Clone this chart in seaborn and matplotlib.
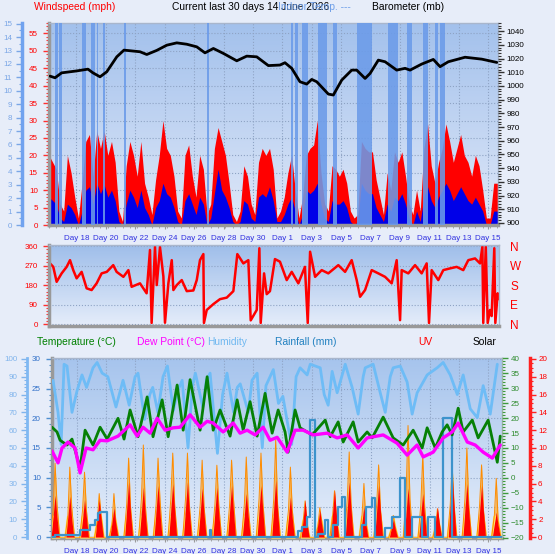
import numpy as np
import matplotlib
matplotlib.use('Agg')
import matplotlib.pyplot as plt
from matplotlib.colors import LinearSegmentedColormap
from matplotlib.ticker import MultipleLocator
import seaborn as sns

# time axis: days from the left edge of the chart (16 May)
day_ticks = [1.87 + 2 * k for k in range(15)]
day_labels = ['Day 18', 'Day 20', 'Day 22', 'Day 24', 'Day 26', 'Day 28', 'Day 30',
              'Day 1', 'Day 3', 'Day 5', 'Day 7', 'Day 9', 'Day 11', 'Day 13', 'Day 15']

# wind, 6-hourly samples (mph)
gust = [20, 18, 16, 6, 4, 20, 15, 8, 2, 12, 24, 26, 14, 27, 22, 27, 20, 24, 18, 4,
        1, 17, 24, 20, 14, 24, 12, 8, 3, 13, 20, 30, 22, 20, 14, 4, 2, 20, 23, 14,
        8, 20, 16, 3, 6, 22, 28, 24, 20, 12, 3, 1, 4, 17, 14, 6, 3, 18, 22, 20,
        22, 16, 2, 4, 8, 15, 20, 10, 2, 8, 20, 22, 23, 30, 15, 6, 4, 17, 16, 14,
        16, 12, 4, 2, 3, 24, 22, 21, 21, 13, 8, 3, 15, 10, 21, 18, 21, 14, 6, 3,
        10, 4, 22, 29, 17, 12, 18, 22, 29, 24, 18, 22, 26, 20, 18, 14, 20, 17, 10, 2,
        2, 12, 12]
wind_avg = [8, 7, 6, 2, 1, 6, 5, 3, 0, 4, 10, 11, 6, 12, 9, 11.6, 8, 10, 7, 1,
            0, 6, 10, 8, 5, 10, 5, 3, 0, 5, 7, 12, 9, 8, 5, 1, 0, 7, 9, 6,
            3, 8, 6, 0, 2, 9, 16, 10, 8, 5, 1, 0, 1, 7, 6, 2, 1, 8, 9, 8,
            11, 7, 1, 1, 3, 6, 8, 4, 0, 3, 10, 9, 10, 12, 6, 2, 1, 7, 6, 6,
            7, 5, 1, 0, 1, 12, 10, 9, 9, 5, 3, 1, 6, 4, 8, 7, 9, 6, 2, 0,
            4, 1, 8, 11, 7, 5, 8, 10, 12, 10, 7, 9, 11, 9, 7, 6, 8, 6, 4, 0,
            0, 4, 4]
wind_t = [0.25 * k for k in range(len(gust))]

# periods shaded blue in the wind panel
band_start = [0.41, 0.68, 2.24, 2.86, 3.27, 3.67, 5.10, 10.75, 16.46, 16.73, 17.21,
              18.30, 19.32, 20.95, 23.06, 24.35, 25.44, 26.26, 26.60]
band_end = [0.61, 0.88, 2.52, 3.13, 3.33, 3.81, 5.24, 10.88, 16.60, 16.94, 17.62,
            18.91, 19.59, 21.97, 23.74, 24.69, 25.78, 26.46, 26.94]

# barometer (mb)
baro_t = [0.07, 0.41, 0.86, 1.88, 2.65, 2.99, 3.47, 3.93, 4.61, 5.10, 6.19, 6.65, 7.33,
          8.01, 8.69, 9.37, 10.05, 10.61, 11.18, 11.86, 12.77, 13.45, 14.13, 14.92, 15.71,
          16.05, 16.51, 17.07, 17.53, 17.87, 18.21, 19.00, 19.34, 19.91, 20.59, 20.93, 21.50,
          21.84, 22.40, 22.86, 23.65, 24.22, 24.56, 25.35, 26.14, 26.60, 27.16, 28.30, 29.44, 30.46]
baro_mb = [1007.2, 1006.0, 1009.6, 1011.0, 1012.3, 1009.6, 1006.7, 1010.4, 1021.3, 1026.2,
           1025.0, 1023.0, 1026.0, 1029.8, 1031.5, 1030.5, 1028.6, 1024.2, 1027.4, 1023.8,
           1018.4, 1021.8, 1021.3, 1014.9, 1015.3, 1017.0, 1012.9, 1003.1, 1001.4, 1004.8,
           1003.1, 994.1, 993.4, 1004.3, 1011.6, 1011.6, 1005.5, 1009.2, 1018.9, 1017.7,
           1011.6, 1012.9, 1011.6, 1016.0, 1019.4, 1014.1, 1017.7, 1021.0, 1019.6, 1017.2]

# wind direction (degrees)
dir_t = [0.07, 0.29, 0.52, 0.86, 1.20, 1.43, 1.65, 1.88, 2.22, 2.56, 2.90, 3.24, 3.58, 3.93,
         4.37, 4.60, 5.06, 5.40, 5.62, 6.19, 6.64, 6.87, 6.98, 7.21, 7.33, 7.55, 7.78, 7.89,
         8.12, 8.35, 8.46, 8.69, 9.03, 9.37, 9.82, 10.05, 10.27, 10.50, 10.54, 10.73, 11.18,
         11.63, 12.09, 12.54, 12.81, 13.22, 13.56, 13.72, 14.13, 14.31, 14.40, 14.63, 14.81,
         15.03, 15.37, 15.71, 16.17, 16.51, 16.96, 17.41, 17.60, 17.76, 18.10, 18.55, 19.00,
         19.68, 20.14, 20.59, 20.93, 21.16, 21.50, 21.95, 22.40, 22.86, 23.31, 23.65, 23.88,
         23.99, 24.44, 24.90, 25.35, 25.69, 25.85, 26.03, 26.48, 26.82, 27.28, 27.73, 28.18,
         28.52, 28.98, 29.32, 29.48, 29.54, 29.71, 29.84, 30.00, 30.11, 30.29, 30.36, 30.52, 30.61]
dir_deg = [280, 264, 195, 234, 264, 295, 249, 211, 241, 165, 157, 188, 234, 241, 272, 241,
           218, 249, 172, 188, 142, 342, 5, 355, 180, 355, 220, 6, 188, 295, 157, 180, 203,
           152, 155, 203, 295, 323, 5, 65, 92, 115, 122, 152, 323, 280, 295, 17, 65, 350,
           5, 234, 138, 152, 300, 288, 203, 241, 188, 264, 5, 334, 218, 249, 234, 272, 241,
           295, 203, 126, 157, 249, 234, 218, 188, 295, 18, 249, 234, 272, 234, 280, 5, 249,
           203, 249, 257, 264, 249, 295, 303, 280, 357, 5, 357, 5, 65, 37, 350, 5, 142, 115]

# humidity (%)
hum_t = [0.07, 0.27, 0.61, 0.82, 1.02, 1.22, 1.56, 1.90, 2.24, 2.55, 2.99, 3.27, 3.61, 4.00,
         4.55, 5.03, 5.45, 5.85, 6.05, 6.50, 6.85, 7.05, 7.40, 7.75, 8.05, 8.45, 8.75, 9.05,
         9.45, 9.75, 9.95, 10.45, 10.70, 10.95, 11.45, 11.80, 12.10, 12.55, 12.80, 13.00, 13.55,
         13.80, 14.15, 14.50, 14.75, 15.25, 15.60, 15.90, 16.30, 16.50, 16.80, 17.07, 17.55,
         17.76, 18.44, 18.71, 18.98, 19.25, 19.59, 20.14, 20.61, 21.02, 21.36, 21.50, 22.04,
         22.52, 22.86, 23.20, 23.40, 23.88, 24.35, 24.69, 25.03, 25.71, 26.39, 26.80, 27.28,
         27.76, 28.16, 28.64, 29.12, 29.52, 30.00, 30.48]
hum = [86, 88, 70, 52, 97, 96, 70, 82, 91, 84, 95, 98, 92, 90, 73, 88, 74, 90, 92, 66, 80,
       84, 70, 90, 96, 71, 82, 88, 50, 85, 92, 73, 88, 92, 47, 80, 92, 70, 84, 86, 70, 88,
       92, 50, 85, 94, 75, 79, 60, 52, 90, 95, 91, 97, 95, 80, 74, 93, 81, 97, 84, 69, 90,
       95, 97, 81, 70, 90, 95, 96, 87, 69, 81, 91, 95, 98, 91, 80, 91, 72, 67, 85, 69, 97]

# temperature (C)
temp_t = [0.20, 0.54, 0.75, 1.22, 1.56, 2.11, 2.45, 2.99, 3.47, 3.95, 4.69, 5.10, 5.51, 6.05,
          6.67, 7.07, 7.69, 8.10, 8.71, 9.12, 9.59, 10.27, 10.75, 11.16, 11.63, 12.31, 12.79,
          13.20, 13.67, 14.15, 14.69, 15.17, 15.58, 16.05, 16.26, 16.73, 17.07, 17.89, 18.78,
          19.12, 19.66, 20.00, 20.68, 21.02, 21.63, 21.97, 22.72, 23.40, 24.08, 24.76, 25.37,
          25.71, 26.26, 26.73, 27.07, 27.41, 27.82, 28.16, 28.78, 29.18, 29.86, 30.48, 30.68]
temp = [18.5, 17.7, 16.3, 15.5, 16.5, 11.6, 18.0, 15.5, 18.5, 16.5, 20.0, 16.5, 21.4, 16.9,
        23.6, 16.9, 23.1, 16.9, 25.6, 18.0, 26.5, 18.0, 27.0, 18.0, 21.4, 17.0, 23.1, 18.0,
        22.8, 17.0, 24.2, 17.5, 21.4, 17.7, 14.3, 21.4, 18.4, 17.2, 19.7, 16.9, 19.4, 16.0,
        19.4, 16.0, 17.7, 16.7, 20.2, 16.7, 15.5, 18.0, 15.0, 18.4, 15.0, 17.7, 18.9, 17.2,
        21.7, 17.7, 19.7, 16.7, 19.7, 12.6, 17.0]

# dew point (C)
dew_t = [0.20, 0.61, 0.88, 1.29, 1.77, 2.11, 2.52, 2.99, 3.47, 3.95, 4.69, 5.51, 5.99, 6.39,
         6.87, 7.35, 7.89, 8.44, 8.91, 9.59, 10.27, 10.75, 11.16, 11.84, 12.52, 12.99, 13.47,
         14.01, 14.56, 15.03, 15.51, 16.19, 16.73, 17.28, 17.96, 18.91, 19.59, 20.27, 21.02,
         21.63, 22.72, 23.67, 24.35, 25.03, 25.44, 26.12, 26.80, 27.41, 27.82, 28.44, 28.98,
         29.52, 30.14, 30.68]
dew = [14.5, 12.5, 15.0, 16.0, 15.0, 10.8, 15.0, 14.7, 16.3, 16.2, 17.0, 18.9, 17.0, 18.5,
       17.5, 20.0, 18.0, 18.4, 18.5, 20.6, 18.5, 19.5, 19.2, 17.7, 19.2, 17.5, 18.0, 17.2,
       18.5, 16.3, 16.8, 14.3, 18.0, 18.0, 17.2, 17.5, 16.7, 17.2, 15.0, 16.7, 17.2, 15.8,
       13.8, 15.5, 13.5, 14.3, 16.7, 17.7, 19.2, 16.0, 15.5, 14.3, 13.3, 15.5]

# rainfall, daily total (mm)
rain_t = [0.00, 0.41, 2.11, 2.79, 3.13, 3.33, 3.47, 3.95, 10.95, 11.02, 16.94, 17.21, 17.55,
          17.76, 18.10, 18.30, 18.78, 18.98, 19.32, 19.66, 19.93, 20.14, 21.29, 21.56, 21.97,
          22.18, 22.86, 23.33, 23.88, 24.22, 24.69, 25.37, 25.78, 26.26, 26.82, 27.41, 30.80]
rain = [0.0, 0.3, 1.2, 2.0, 2.9, 4.0, 4.2, 0.0, 1.2, 0.0, 1.0, 1.7, 3.4, 19.7, 0.0, 0.6, 2.9,
        0.0, 2.0, 5.0, 6.7, 0.0, 2.0, 5.0, 6.5, 0.0, 1.5, 3.4, 10.0, 0.0, 3.4, 0.0, 3.4, 0.0,
        20.0, 0.0, 0.0]

# UV index and solar radiation per day: (morning, peak, afternoon)
uv_days = [(2.6, 4.7, 2.4), (2.5, 4.6, 2.2), (2.2, 4.2, 2.4), (2.4, 4.2, 2.2), (1.8, 3.3, 1.6),
           (3.4, 6.2, 3.0), (3.0, 5.6, 2.9), (3.2, 5.8, 3.0), (3.3, 6.0, 3.2), (3.5, 6.2, 3.2),
           (3.0, 5.5, 2.8), (3.1, 5.6, 2.9), (3.2, 5.8, 3.1), (2.7, 4.9, 2.6), (3.2, 5.8, 3.1),
           (3.5, 6.4, 3.2), (2.4, 4.5, 2.3), (2.2, 4.2, 1.8), (1.6, 3.0, 1.5), (2.9, 5.3, 2.7),
           (3.4, 6.2, 3.2), (1.9, 3.4, 1.6), (3.2, 5.8, 3.0), (1.1, 2.0, 1.0), (3.0, 5.5, 2.9),
           (2.7, 4.9, 2.5), (1.9, 3.4, 1.7), (3.9, 7.2, 3.7), (3.3, 6.0, 3.1), (3.2, 5.8, 3.0),
           (1.6, 2.8, 1.4)]
solar_days = [(250, 665, 300), (200, 630, 280), (250, 585, 250), (150, 395, 200), (120, 395, 150),
              (300, 710, 280), (350, 827, 300), (300, 710, 350), (350, 755, 300), (350, 755, 300),
              (300, 692, 280), (300, 647, 300), (300, 692, 350), (300, 720, 280), (350, 755, 320),
              (350, 870, 300), (250, 630, 250), (150, 330, 120), (100, 270, 150), (200, 420, 180),
              (350, 765, 300), (200, 485, 150), (300, 650, 250), (80, 200, 100), (400, 1000, 350),
              (300, 735, 280), (100, 260, 120), (300, 650, 300), (350, 800, 300), (300, 650, 250),
              (200, 530, 150)]
solar_noon = 0.41

sns.set_style('white')
plt.rcParams['font.family'] = ['Liberation Sans', 'DejaVu Sans']

W, H = 555, 554
fig = plt.figure(figsize=(W / 100, H / 100), dpi=100, facecolor='#e7edf9')
TS = 5.8


def box(x0, y0, x1, y1):
    return [x0 / W, 1 - y1 / H, (x1 - x0) / W, (y1 - y0) / H]


def backdrop(ax, top, bottom):
    cmap = LinearSegmentedColormap.from_list('bg', [bottom, top])
    ax.imshow(np.linspace(0, 1, 100).reshape(-1, 1), cmap=cmap, origin='lower',
              aspect='auto', extent=(0, 1, 0, 1), transform=ax.transAxes, zorder=0)


def frame(ax):
    for s in ['top', 'right']:
        ax.spines[s].set_color('#a9b6cc')
        ax.spines[s].set_linewidth(1)
    for s in ['left', 'bottom']:
        ax.spines[s].set_color('#999999')
        ax.spines[s].set_linewidth(2.5)


def no_spines(ax):
    for s in ax.spines.values():
        s.set_visible(False)


def yscale(ax, side, lo, hi, major, minor, tick_col, lab_col, pad=3, outward=None,
           spine_col=None, spine_lw=2.5):
    ax.set_ylim(lo, hi)
    ax.yaxis.set_ticks_position(side)
    ax.yaxis.set_major_locator(MultipleLocator(major))
    ax.yaxis.set_minor_locator(MultipleLocator(minor))
    ax.tick_params(axis='y', which='both', colors=tick_col, labelcolor=lab_col,
                   labelsize=TS, direction='out', pad=pad)
    ax.tick_params(axis='y', which='major', length=4, width=1)
    ax.tick_params(axis='y', which='minor', length=2.5, width=0.8)
    if outward is not None:
        sp = ax.spines[side]
        sp.set_visible(True)
        sp.set_position(('outward', outward))
        sp.set_color(spine_col)
        sp.set_linewidth(spine_lw)


def hide_y(ax):
    ax.tick_params(axis='y', which='both', left=False, right=False,
                   labelleft=False, labelright=False)


def day_axis(ax):
    ax.set_xticks(day_ticks, day_labels)
    ax.xaxis.set_minor_locator(MultipleLocator(0.5))
    ax.xaxis.set_ticks_position('bottom')
    ax.tick_params(axis='x', which='both', colors='#9a9a9a', labelcolor='#3030e0',
                   labelsize=TS, direction='out')
    ax.tick_params(axis='x', which='major', length=3, pad=4)
    ax.tick_params(axis='x', which='minor', length=2)


grid_kw = dict(ls=':', lw=0.8, color='#8ea3c4')

# ---------------- wind speed and barometer ----------------
ax1 = fig.add_axes(box(49, 23, 498, 225))
backdrop(ax1, '#a3c1ec', '#dfe8f8')
ax1.set_xlim(0, 30.54)
yscale(ax1, 'left', 0, 58, 5, 1, '#ff3030', '#ff0000', pad=4)
frame(ax1)
day_axis(ax1)
ax1.grid(True, which='major', **grid_kw)
ax1.fill_between(wind_t, gust, color='#ff0000', lw=0, zorder=2)
ax1.fill_between(wind_t, wind_avg, color='#0000e8', lw=0, zorder=2.5)
for s, e in zip(band_start, band_end):
    ax1.axvspan(s, e, color='#6b9be9', alpha=0.88, lw=0, zorder=3)

ax1b = ax1.twinx()
no_spines(ax1b)
yscale(ax1b, 'left', 0, 15.05, 1, 0.5, '#7aa6e6', '#7aa6e6', pad=3, outward=19.5,
       spine_col='#70a2ef', spine_lw=2.5)

ax1c = ax1.twinx()
no_spines(ax1c)
yscale(ax1c, 'right', 898.5, 1046, 10, 2, '#333333', '#000000', pad=2)
sns.lineplot(x=baro_t, y=baro_mb, ax=ax1c, color='black', lw=2, estimator=None, sort=False)
ax1c.set_ylabel('')

# ---------------- wind direction ----------------
ax2 = fig.add_axes(box(49, 245, 499, 326))
backdrop(ax2, '#9fbeea', '#e5edfa')
ax2.set_xlim(0, 30.61)
yscale(ax2, 'left', -9, 365, 90, 15, '#ff3030', '#ff0000', pad=4)
frame(ax2)
ax2.tick_params(axis='x', which='both', bottom=False, labelbottom=False)
ax2.grid(True, axis='y', **grid_kw)
sns.lineplot(x=dir_t, y=dir_deg, ax=ax2, color='#ff0000', lw=1.8, estimator=None, sort=False)
ax2.set_ylabel('')

ax2b = ax2.twinx()
no_spines(ax2b)
ax2b.set_ylim(-9, 365)
ax2b.set_yticks([360, 270, 180, 90, 0], ['N', 'W', 'S', 'E', 'N'])
ax2b.tick_params(axis='y', right=True, length=0, pad=8, labelsize=8.5, labelcolor='#ff0000')

# ---------------- temperature, humidity, rain, UV, solar ----------------
ax3 = fig.add_axes(box(52, 358, 502, 538))
backdrop(ax3, '#a6c4ed', '#e6eefa')
ax3.set_xlim(0.20, 30.80)
yscale(ax3, 'left', -0.15, 30.15, 5, 1, '#4f8fd0', '#2f6fc8', pad=4)
frame(ax3)
day_axis(ax3)
ax3.grid(True, which='major', **grid_kw)

sun_t, sol_v, uv_t, uv_v = [], [], [], []
for d, (sm, sp, sa) in enumerate(solar_days):
    for off, v in zip([-0.32, -0.13, 0, 0.13, 0.32], [0, sm, sp, sa, 0]):
        sun_t.append(d + solar_noon + off)
        sol_v.append(v)
for d, (um, up, ua) in enumerate(uv_days):
    for off, v in zip([-0.27, -0.12, 0, 0.12, 0.27], [0, um, up, ua, 0]):
        uv_t.append(d + solar_noon + off)
        uv_v.append(v)
sun_t = np.array(sun_t)
sol_v = np.array(sol_v)

ax3s = ax3.twinx()
no_spines(ax3s)
hide_y(ax3s)
ax3s.set_ylim(0, 1600)
ax3s.fill_between(sun_t, sol_v, color='#ffa31a', alpha=0.7, lw=0)
ax3s.fill_between(sun_t, np.minimum(sol_v, 190), color='#fff07a', lw=0)
ax3s.plot(sun_t, np.minimum(sol_v, 190), color='#ffe25a', lw=1.5)
sns.lineplot(x=sun_t, y=sol_v, ax=ax3s, color='#ff8c00', lw=0.7, estimator=None, sort=False)
ax3s.set_ylabel('')

ax3u = ax3.twinx()
no_spines(ax3u)
yscale(ax3u, 'right', -0.1, 20.1, 2, 0.5, '#ff2020', '#ff0000', pad=2, outward=20,
       spine_col='#ff2020', spine_lw=2.5)
ax3u.fill_between(uv_t, uv_v, color='#ff0000', lw=0)

ax3h = ax3.twinx()
no_spines(ax3h)
yscale(ax3h, 'left', -0.5, 100.5, 10, 2, '#80b4ec', '#80b4ec', pad=3, outward=18,
       spine_col='#7fb8f2', spine_lw=2)
sns.lineplot(x=hum_t, y=hum, ax=ax3h, color='#6ebcf6', lw=2, estimator=None, sort=False)
ax3h.set_ylabel('')

ax3g = ax3.twinx()
no_spines(ax3g)
yscale(ax3g, 'right', -20.1, 40.1, 5, 1, '#3d9a3d', '#2e8b2e', pad=2)
ax3g.spines['right'].set_visible(True)
ax3g.spines['right'].set_color('#9ab89a')
ax3g.spines['right'].set_linestyle(':')

ax3t = ax3.twinx()
no_spines(ax3t)
hide_y(ax3t)
ax3t.set_ylim(-0.15, 30.15)
sns.lineplot(x=rain_t, y=rain, ax=ax3t, color='#3c93cc', lw=1.6, estimator=None,
             sort=False, drawstyle='steps-post')
sns.lineplot(x=temp_t, y=temp, ax=ax3t, color='#068006', lw=2, estimator=None, sort=False)
sns.lineplot(x=dew_t, y=dew, ax=ax3t, color='#ff00ff', lw=2.4, estimator=None, sort=False)
ax3t.set_ylabel('')

# ---------------- headings ----------------
FS = 7.4


def label(x, y, s, c):
    fig.text(x / W, 1 - y / H, s, color=c, fontsize=FS, ha='left', va='center')


label(34, 7, 'Windspeed (mph)', '#ff0000')
label(172, 7, 'Current last 30 days 14 June 2026', '#000000')
label(278, 7, 'Indoor Temp. ---', '#6f9fe8')
label(372, 7, 'Barometer (mb)', '#000000')
label(37, 342, 'Temperature (°C)', '#008000')
label(137, 342, 'Dew Point (°C)', '#ff00ff')
label(207, 342, 'Humidity', '#70b8f0')
label(275, 342, 'Rainfall (mm)', '#2080c0')
label(418, 342, 'UV', '#ff0000')
label(473, 342, 'Solar', '#000000')

fig.savefig('out.png', dpi=100, facecolor=fig.get_facecolor())
